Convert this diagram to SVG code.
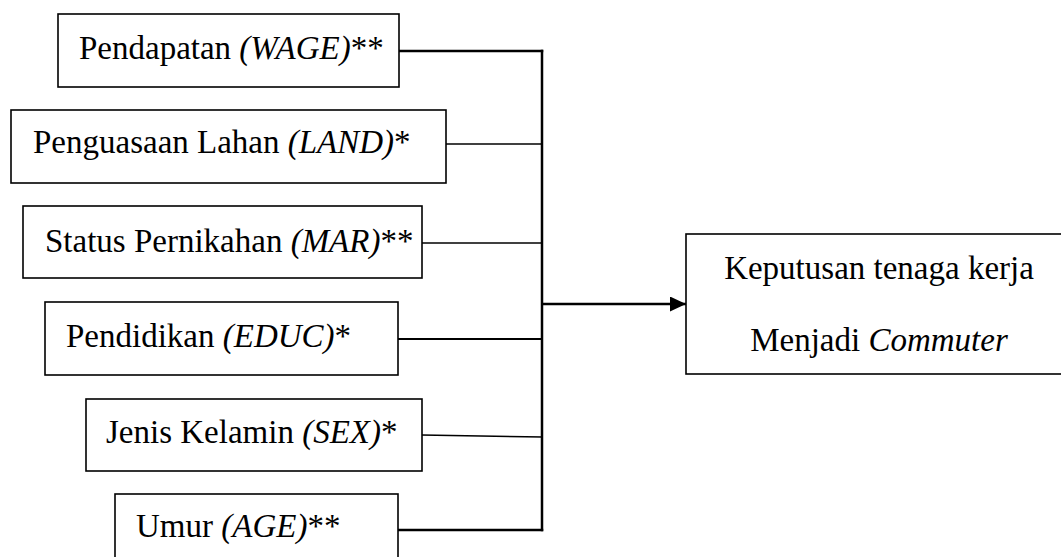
<svg xmlns="http://www.w3.org/2000/svg" width="1061" height="557" viewBox="0 0 1061 557">
<style>
.box{fill:#fff;stroke:#000;stroke-width:1.6}
.t{font-family:"Liberation Serif","Times New Roman",serif;font-size:33px;fill:#000}
.i{font-style:italic}
.c{fill:none;stroke:#000;stroke-linecap:square}
</style>
<defs>
<marker id="ah" markerWidth="16" markerHeight="15" refX="16" refY="7.5" orient="auto" markerUnits="userSpaceOnUse">
<path d="M0,0 L16,7.5 L0,15 Z" fill="#000"/>
</marker>
</defs>
<rect width="1061" height="557" fill="#fff"/>
<g id="connectors">
<line class="c" x1="399" y1="51" x2="542" y2="51" stroke-width="2.5"/>
<line class="c" x1="446" y1="144" x2="542" y2="144" stroke-width="1.6"/>
<line class="c" x1="422" y1="243" x2="542" y2="243" stroke-width="1.6"/>
<line class="c" x1="398" y1="339" x2="542" y2="339" stroke-width="2"/>
<line class="c" x1="422" y1="435" x2="542" y2="437" stroke-width="1.6"/>
<line class="c" x1="398" y1="530" x2="542" y2="530" stroke-width="2.5"/>
<line class="c" x1="542" y1="51" x2="542" y2="530" stroke-width="2.5"/>
<line x1="542" y1="304" x2="686" y2="304" stroke="#000" stroke-width="2.5" marker-end="url(#ah)"/>
</g>
<g id="wage">
<rect class="box" x="58" y="14" width="341" height="73"/>
<text class="t" x="79" y="59">Pendapatan <tspan class="i">(WAGE)</tspan>**</text>
</g>
<g id="land">
<rect class="box" x="11" y="110" width="435" height="73"/>
<text class="t" x="33" y="153">Penguasaan Lahan <tspan class="i">(LAND)</tspan>*</text>
</g>
<g id="mar">
<rect class="box" x="23" y="206" width="399" height="72"/>
<text class="t" x="45" y="252">Status Pernikahan <tspan class="i">(MAR)</tspan>**</text>
</g>
<g id="educ">
<rect class="box" x="45" y="302" width="353" height="73"/>
<text class="t" x="66" y="347">Pendidikan <tspan class="i">(EDUC)</tspan>*</text>
</g>
<g id="sex">
<rect class="box" x="86" y="399" width="336" height="72"/>
<text class="t" x="106" y="443">Jenis Kelamin <tspan class="i">(SEX)</tspan>*</text>
</g>
<g id="age">
<rect class="box" x="115" y="494" width="283" height="80"/>
<text class="t" x="136" y="537">Umur <tspan class="i">(AGE)</tspan>**</text>
</g>
<g id="decision">
<rect class="box" x="686" y="234" width="390" height="140"/>
<text class="t" x="879" y="279" text-anchor="middle">Keputusan tenaga kerja</text>
<text class="t" x="879" y="351" text-anchor="middle">Menjadi <tspan class="i">Commuter</tspan></text>
</g>
</svg>
